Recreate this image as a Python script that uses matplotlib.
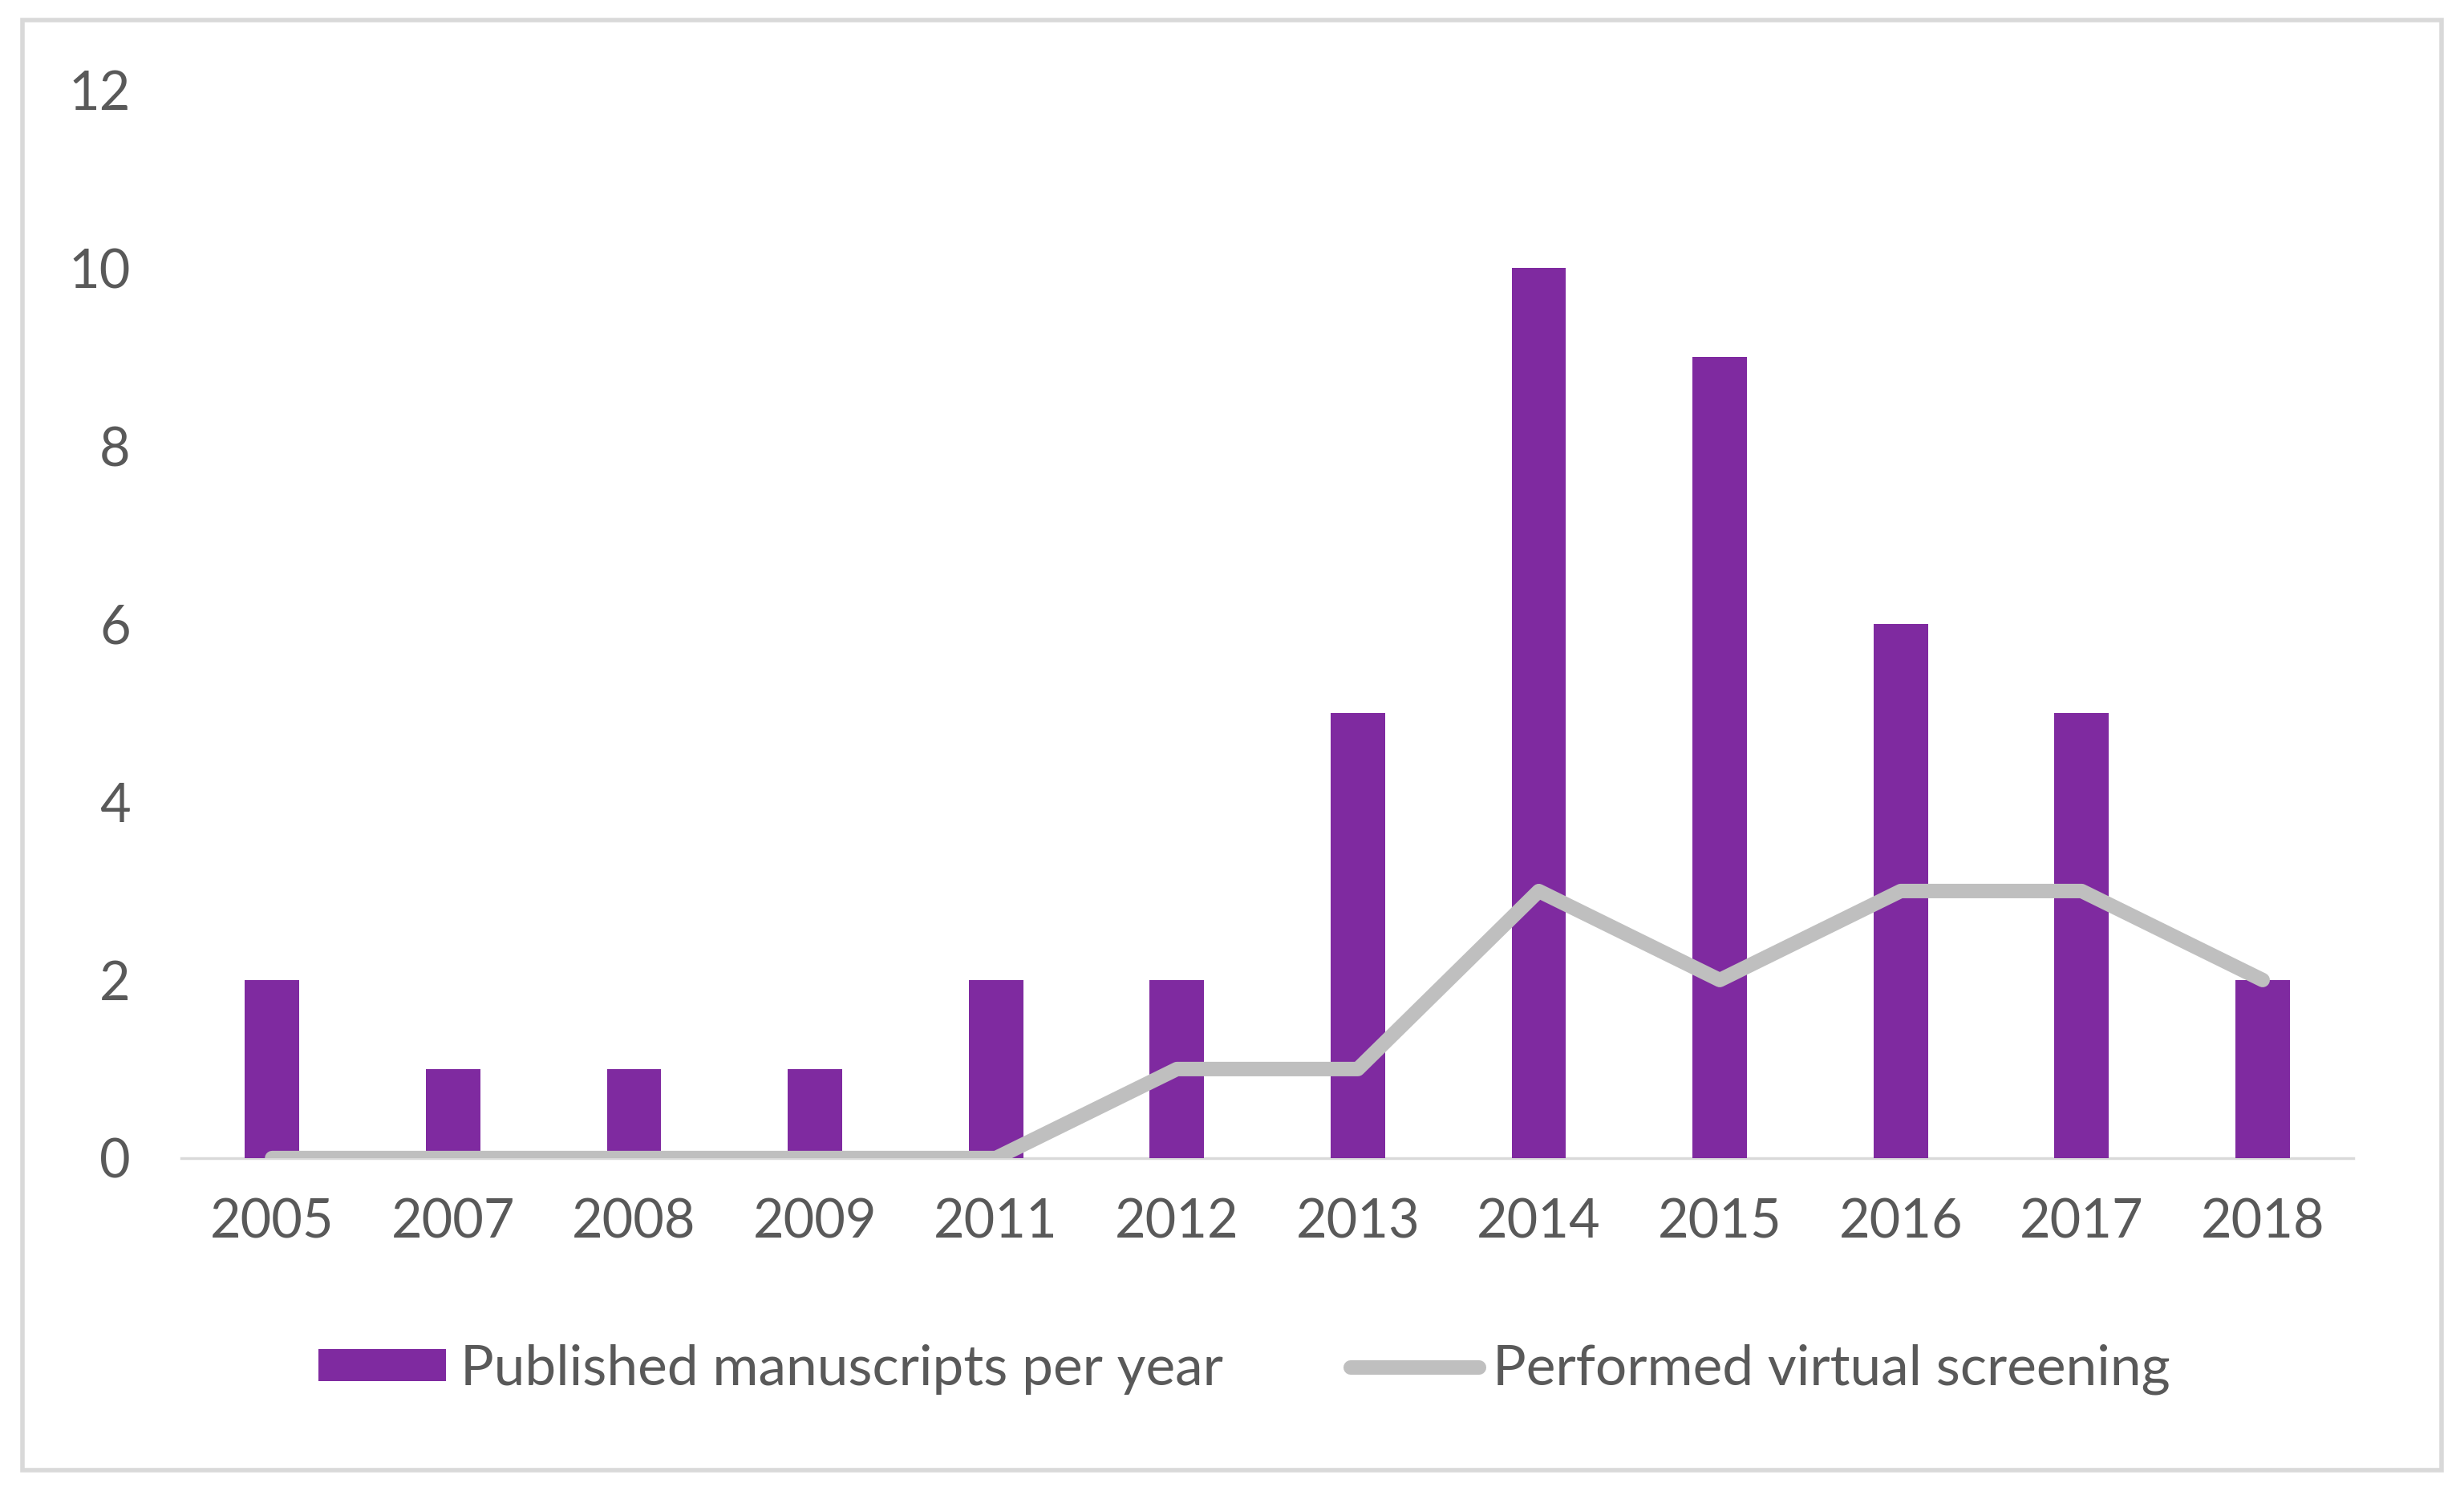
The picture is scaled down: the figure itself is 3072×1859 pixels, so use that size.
import matplotlib
matplotlib.use("Agg")
import matplotlib.pyplot as plt
import matplotlib.patches as patches
import numpy as np

plt.rcParams['font.family'] = ['Lato', 'DejaVu Sans']

#data
years = ["2005", "2007", "2008", "2009", "2011", "2012",
         "2013", "2014", "2015", "2016", "2017", "2018"]
manuscripts = [2, 1, 1, 1, 2, 2, 5, 10, 9, 6, 5, 2]
screening = [0, 0, 0, 0, 0, 1, 1, 3, 2, 3, 3, 2]
yticks = [0, 2, 4, 6, 8, 10, 12]

purple = "#7f2aa0"
grey_line = "#bfbfbf"
txt = "#595959"

fig = plt.figure(figsize=(30.72, 18.59), dpi=100)
ax = fig.add_axes([0.0737, 0.2233, 0.955 - 0.0737, 0.9397 - 0.2233])

x = np.arange(len(years))
bars = ax.bar(x, manuscripts, width=0.3, color=purple, zorder=2,
              label="Published manuscripts per year")
line, = ax.plot(x, screening, color=grey_line, linewidth=13, solid_capstyle='round',
                solid_joinstyle='round', zorder=3, label="Performed virtual screening")

ax.set_xlim(-0.5, len(years) - 0.5)
ax.set_ylim(0, 12)
ax.set_xticks(x)
ax.set_xticklabels(years)
ax.set_yticks(yticks)

#remove frame, keep only the light baseline
for s in ['top', 'right', 'left']:
    ax.spines[s].set_visible(False)
ax.spines['bottom'].set_color("#d9d9d9")
ax.spines['bottom'].set_linewidth(2.5)
ax.spines['bottom'].set_zorder(1)
ax.tick_params(axis='both', length=0, labelsize=48, colors=txt)
ax.tick_params(axis='y', pad=46)
ax.tick_params(axis='x', pad=36)

#legend below the plot, bars first
fig.legend(handles=[bars, line], loc='center', bbox_to_anchor=(0.505, 0.0815), ncol=2,
           frameon=False, fontsize=50, labelcolor=txt, handlelength=2.3,
           handleheight=0.5, handletextpad=0.25, columnspacing=2.3)

#outer light border around the whole chart
border = patches.Rectangle((0.009, 0.0138), 0.982, 0.973, transform=fig.transFigure,
                           fill=False, edgecolor="#d9d9d9", linewidth=4)
fig.patches.append(border)

fig.savefig("out.png", dpi=100, facecolor="white")
